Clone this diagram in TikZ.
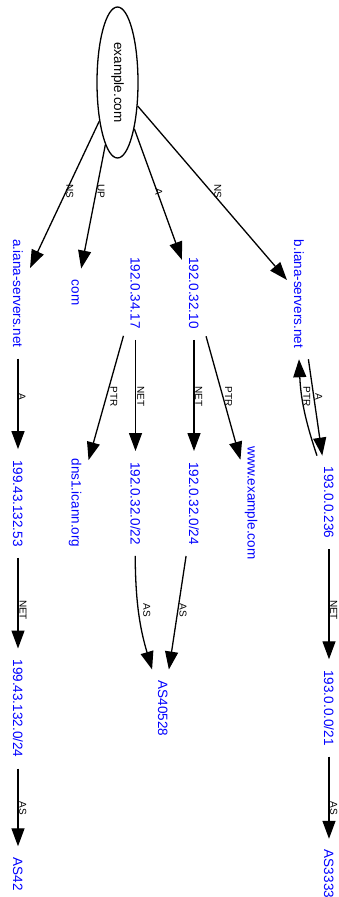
\documentclass[tikz,border=0pt]{standalone}
\usepackage{fontspec}
\setmainfont{Liberation Sans}
\usetikzlibrary{arrows.meta,shapes.geometric}

\begin{document}
\begin{tikzpicture}[x=1pt,y=-1pt,
  host/.style={rotate=-90, text=blue, font=\fontsize{13.5}{16}\selectfont,
    text height=9.7pt, text depth=0pt, inner xsep=11pt, inner ysep=7pt},
  apex/.style={ellipse, draw, line width=1.3pt, rotate=-90,
    minimum width=151pt, minimum height=41pt, inner sep=0pt,
    font=\fontsize{13.5}{16}\selectfont},
  lbl/.style={rotate=-90, font=\fontsize{10}{12}\selectfont,
    text height=7.2pt, text depth=0pt, inner sep=0pt},
  link/.style={line width=1.3pt, -{Triangle[length=18pt,width=13pt]}},
]
\useasboundingbox (0,0) rectangle (339,897);

% domain at the top
\node[apex] (ex) at (117.5,82.5) {example.com};

% first rank
\node[host] (aiana) at (18,293.5)  {a.iana-servers.net};
\node[host] (com)   at (76.5,292.5){com};
\node[host] (ip17)  at (135.5,293) {192.0.34.17};
\node[host] (ip10)  at (194,293)   {192.0.32.10};
\node[host] (biana) at (299,294)   {b.iana-servers.net};

% second rank
\node[host] (ip53)  at (18,503.5)   {199.43.132.53};
\node[host] (dns1)  at (76.5,503)   {dns1.icann.org};
\node[host] (net22) at (135.5,503.5){192.0.32.0/22};
\node[host] (net24) at (194,503.5)  {192.0.32.0/24};
\node[host] (www)   at (252.5,503)  {www.example.com};
\node[host] (ip236) at (329,502.5)  {193.0.0.236};

% third rank
\node[host] (net132)  at (18,708.5)  {199.43.132.0/24};
\node[host] (as40528) at (163,708.5) {AS40528};
\node[host] (net21)   at (329,708)   {193.0.0.0/21};

% autonomous systems
\node[host] (as42)   at (18,874)  {AS42};
\node[host] (as3333) at (329,874) {AS3333};

% edges
\draw[link] (ex) -- (aiana);
\draw[link] (ex) -- (com);
\draw[link] (ex) -- (ip10);
\draw[link] (ex) -- (biana);

\draw[link] (aiana) -- (ip53);
\draw[link] (ip17) -- (dns1);
\draw[link] (ip17) -- (net22);
\draw[link] (ip10) -- (net24);
\draw[link] (ip10) -- (www);
\draw[link] (biana) -- (ip236);
\draw[link] (ip236.south west) to[bend left=8] (biana.east);

\draw[link] (ip53) -- (net132);
\draw[link] (net22) to[bend right=8] (as40528);
\draw[link] (net24) -- (as40528);
\draw[link] (ip236) -- (net21);

\draw[link] (net132) -- (as42);
\draw[link] (net21) -- (as3333);

% edge labels
\node[lbl] (l1)  at (70,191.5)   {NS};
\node[lbl] (l2)  at (101.3,191.5){UP};
\node[lbl] (l3)  at (159,191.5)  {A};
\node[lbl] (l4)  at (218,191.5)  {NS};

\node[lbl] (l5)  at (22.2,396.7) {A};
\node[lbl] (l6)  at (114,396.7)  {PTR};
\node[lbl] (l7)  at (141,396.7)  {NET};
\node[lbl] (l8)  at (199,396.7)  {NET};
\node[lbl] (l9)  at (228.7,396.7){PTR};
\node[lbl] (l10) at (307,396.7)  {PTR};
\node[lbl] (l11) at (319,396.7)  {A};

\node[lbl] (l12) at (23.3,610)   {NET};
\node[lbl] (l13) at (147,610)    {AS};
\node[lbl] (l14) at (183.3,610)  {AS};
\node[lbl] (l15) at (334,610)    {NET};

\node[lbl] (l16) at (23,808)     {AS};
\node[lbl] (l17) at (334,808)    {AS};
\end{tikzpicture}
\end{document}
